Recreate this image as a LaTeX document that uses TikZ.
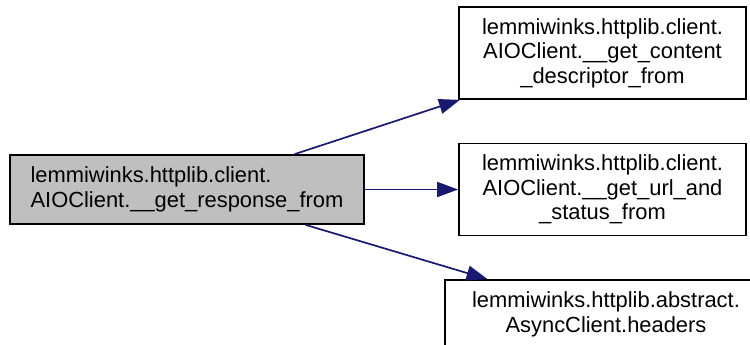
\documentclass[tikz,border=0pt]{standalone}
\usepackage{fontspec}
\setmainfont{Liberation Sans}
\usetikzlibrary{positioning,arrows.meta}

\begin{document}
\begin{tikzpicture}[
  x=1pt, y=-1pt,
  >={Triangle[length=21pt, width=15pt]},
  fn/.style={draw, line width=1.7pt, minimum width=287pt, minimum height=92pt,
             align=center, inner sep=0pt,
             font=\fontsize{21.9}{24.5}\selectfont},
  cur/.style={fn, fill=black!25, align=left, minimum width=354pt, minimum height=69pt},
  call/.style={->, line width=1.7pt, draw={rgb,255:red,25;green,25;blue,112},
               fill={rgb,255:red,25;green,25;blue,112}}]

  \useasboundingbox (0,0) rectangle (750,345);
  \clip (0,0) rectangle (750,345);

  \node[cur] (resp) at (187,189.5) {lemmiwinks.httplib.client.\\AIOClient.\_\_get\_response\_from};

  \node[fn] (desc) at (602.5,53) {lemmiwinks.httplib.client.\\AIOClient.\_\_get\_content\\\_descriptor\_from};
  \node[fn] (url) at (602.5,189.5) {lemmiwinks.httplib.client.\\AIOClient.\_\_get\_url\_and\\\_status\_from};
  \node[fn, minimum width=322pt, minimum height=69pt] (hdr) at (606,314.5)
    {lemmiwinks.httplib.abstract.\\AsyncClient.headers};

  \draw[call] (resp) -- (desc);
  \draw[call] (resp) -- (url);
  \draw[call] (resp) -- (hdr);
\end{tikzpicture}
\end{document}
